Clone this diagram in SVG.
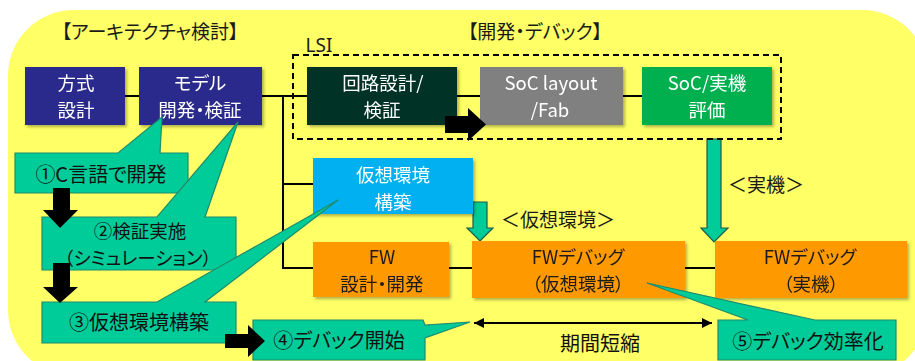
<svg xmlns="http://www.w3.org/2000/svg" width="915" height="361" viewBox="0 0 915 361">
<style>
  .t { font-family: "Noto Sans CJK JP", "Noto Sans", sans-serif; font-feature-settings: "palt" 1; }
  .w { fill: #ffffff; font-size: 18.5px; text-anchor: middle; }
  .d { fill: #1a1a1a; font-size: 18.5px; text-anchor: middle; }
  .c { fill: #111111; font-size: 20px; text-anchor: middle; }
  .c2 { fill: #111111; font-size: 18.5px; text-anchor: middle; }
  .lbl { fill: #1a1a1a; font-size: 19px; }
  .line { stroke: #000; stroke-width: 2; fill: none; }
  .call { fill: #00CC99; stroke: #1E8C6E; stroke-width: 1.2; stroke-linejoin: miter; }
  .garr { fill: #00CC99; stroke: #1E5A48; stroke-width: 1.2; }
  .barr { fill: #000; }
</style>
<defs>
  <filter id="sh" x="-10%" y="-10%" width="130%" height="140%">
    <feDropShadow dx="2" dy="2" stdDeviation="1.5" flood-color="#000" flood-opacity="0.3"/>
  </filter>
  <marker id="ah" viewBox="0 0 10 10" refX="10" refY="5" markerWidth="5" markerHeight="5" orient="auto-start-reverse" markerUnits="strokeWidth">
    <path d="M0,0 L10,5 L0,10 z" fill="#000"/>
  </marker>
</defs>

<!-- background -->
<rect x="8" y="10" width="920" height="366" rx="66" ry="66" fill="#FFFF66"/>

<!-- titles -->
<text class="t lbl" x="150" y="39" font-size="18" text-anchor="middle">【アーキテクチャ検討】</text>
<text class="t lbl" x="535" y="39" font-size="18" text-anchor="middle">【開発・デバック】</text>
<text x="319" y="52" font-family="Noto Sans, sans-serif" font-size="19" fill="#1a1a1a" text-anchor="middle">LSI</text>

<!-- connectors -->
<g id="connectors">
  <line class="line" x1="125" y1="96" x2="139" y2="96"/>
  <line class="line" x1="262" y1="96" x2="307" y2="96"/>
  <line class="line" x1="457" y1="96" x2="480" y2="96"/>
  <line class="line" x1="623" y1="96" x2="642" y2="96"/>
  <line class="line" x1="283" y1="96" x2="283" y2="269"/>
  <line class="line" x1="283" y1="184" x2="313" y2="184"/>
  <line class="line" x1="283" y1="268" x2="313" y2="268"/>
  <line class="line" x1="449" y1="268" x2="472" y2="268"/>
  <line class="line" x1="685" y1="268" x2="715" y2="268"/>
  <line class="line" x1="474" y1="323" x2="712" y2="323" marker-start="url(#ah)" marker-end="url(#ah)"/>
  <polygon class="garr" points="473,202 487,202 487,228 493,228 480,241 467,228 473,228"/>
  <polygon class="garr" points="707,139 721,139 721,228 728,228 714,242 701,228 707,228"/>
</g>

<!-- LSI dashed group -->
<rect x="293" y="55" width="488" height="84" fill="none" stroke="#000" stroke-width="2" stroke-dasharray="6,4"/>

<!-- nodes -->
<g id="n-houshiki" filter="url(#sh)">
  <rect x="25" y="67" width="100" height="58" fill="#2B2B8C"/>
  <text class="t w"><tspan x="76" y="89.5">方式</tspan><tspan x="76" y="116.5">設計</tspan></text>
</g>
<g id="n-model" filter="url(#sh)">
  <rect x="139" y="67" width="123" height="58" fill="#2B2B8C"/>
  <text class="t w"><tspan x="200" y="89.5">モデル</tspan><tspan x="200" y="116.5">開発・検証</tspan></text>
</g>
<g id="n-kairo" filter="url(#sh)">
  <rect x="307" y="67" width="150" height="58" fill="#003325"/>
  <text class="t w"><tspan x="383" y="89.5">回路設計/</tspan><tspan x="382" y="116.5">検証</tspan></text>
</g>
<g id="n-soc-layout" filter="url(#sh)">
  <rect x="480" y="67" width="143" height="58" fill="#808080"/>
  <text class="t w" font-size="20"><tspan x="551" y="89.5">SoC layout</tspan><tspan x="550" y="117">/Fab</tspan></text>
</g>
<g id="n-soc-eval" filter="url(#sh)">
  <rect x="642" y="67" width="130" height="58" fill="#00B050"/>
  <text class="t w"><tspan x="707" y="89.5">SoC/実機</tspan><tspan x="707" y="116.5">評価</tspan></text>
</g>
<g id="n-kasou" filter="url(#sh)">
  <rect x="313" y="158" width="160" height="56" fill="#00B0F0"/>
  <text class="t w"><tspan x="393" y="181.5">仮想環境</tspan><tspan x="393" y="208.5">構築</tspan></text>
</g>
<g id="n-fw-dev" filter="url(#sh)">
  <rect x="313" y="242" width="136" height="55" fill="#FF9900"/>
  <text class="t d"><tspan x="382" y="264">FW</tspan><tspan x="382" y="291">設計・開発</tspan></text>
</g>
<g id="n-fw-debug-virtual" filter="url(#sh)">
  <rect x="472" y="241" width="213" height="57" fill="#FF9900"/>
  <text class="t d"><tspan x="578" y="264">FWデバッグ</tspan><tspan x="578" y="291">（仮想環境）</tspan></text>
</g>
<g id="n-fw-debug-real" filter="url(#sh)">
  <rect x="715" y="241" width="192" height="57" fill="#FF9900"/>
  <text class="t d"><tspan x="810" y="264">FWデバッグ</tspan><tspan x="811" y="291">（実機）</tspan></text>
</g>

<!-- arrow labels -->
<text class="t lbl" x="558" y="227" text-anchor="middle">＜仮想環境＞</text>
<text class="t lbl" x="766" y="192" text-anchor="middle">＜実機＞</text>
<text class="t c" x="600" y="351" font-size="21">期間短縮</text>

<!-- callouts -->
<g id="c1">
  <polygon class="call" points="15,153 118,153 162,117 160,153 188,153 188,193 15,193"/>
  <text class="t c" x="101" y="182">①C言語で開発</text>
</g>
<g id="c2">
  <polygon class="call" points="42,217 157,217 238,122 205,217 236,217 236,270 42,270"/>
  <text class="t c2"><tspan x="140" y="238">②検証実施</tspan><tspan x="138" y="265">（シミュレーション）</tspan></text>
</g>
<g id="c3">
  <polygon class="call" points="42,302 157,302 338,200 205,302 236,302 236,343 42,343"/>
  <text class="t c" x="139" y="330">③仮想環境構築</text>
</g>
<g id="c4">
  <polygon class="call" points="253,320 423,320 425,325 470,322 425,338 425,360 253,360"/>
  <text class="t c" x="339" y="348">④デバック開始</text>
</g>
<g id="c5">
  <polygon class="call" points="718,320 748,320 647,283 815,320 896,320 896,360 718,360"/>
  <text class="t c" x="808" y="349">⑤デバック効率化</text>
</g>

<!-- black block arrows -->
<g id="block-arrows">
  <polygon class="barr" points="53,188 70,188 70,210 78,210 60,228 43,210 53,210"/>
  <polygon class="barr" points="53,263 70,263 70,287 78,287 60,303 43,287 53,287"/>
  <polygon class="barr" points="225,334 248,334 248,325 265,341 248,357 248,348 225,348"/>
  <polygon class="barr" points="445,116 468,116 468,108 486,124.5 468,141 468,133 445,133"/>
</g>
</svg>
